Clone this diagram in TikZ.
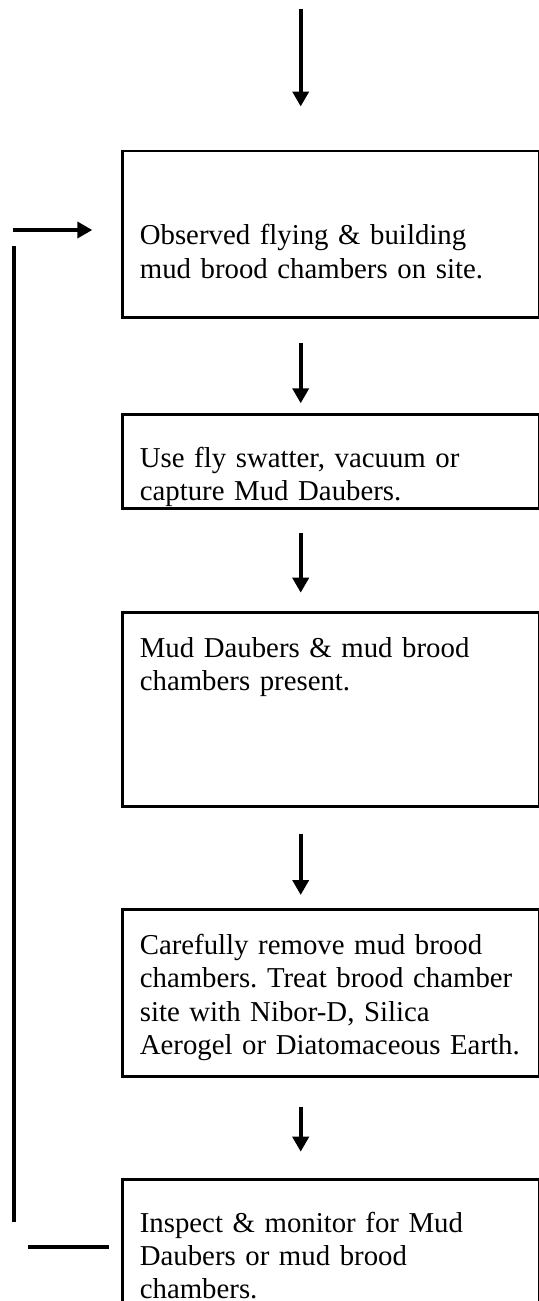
\documentclass[tikz,border=0pt]{standalone}
\usepackage{fontspec}
\setmainfont{Liberation Serif}
\usetikzlibrary{arrows.meta,calc}
\begin{document}
\frenchspacing
\begin{tikzpicture}[x=0.5pt,y=-0.5pt,
 box/.style={draw, line width=1.35pt, anchor=north west, inner xsep=8.75pt, inner ysep=0pt,
   text width=191pt, align=left, font=\fontsize{14.4pt}{16.65pt}\selectfont\frenchspacing},
 arr/.style={line width=1.85pt, -{Triangle[length=7.5pt,width=8pt]}},
 fb/.style={line width=1.85pt}]
\useasboundingbox (0,0) rectangle (539,1301);
\clip (0,0) rectangle (539,1301);
% boxes
\node[box, text height=47pt, text depth=36.25pt] (b1) at (121,149.5)
  {\mbox{Observed flying \& building}\\\mbox{mud brood chambers on site.}};
\node[box, text height=26.35pt, text depth=20.65pt] (b2) at (121,413.3)
  {\mbox{Use fly swatter, vacuum or}\\\mbox{capture Mud Daubers.}};
\node[box, text height=22.5pt, text depth=74.5pt] (b3) at (121,611)
  {\mbox{Mud Daubers \& mud brood}\\\mbox{chambers present.}};
\node[box, text height=22.5pt, text depth=60.85pt] (b4) at (121,908.3)
  {\mbox{Carefully remove mud brood}\\\mbox{chambers. Treat brood chamber}\\\mbox{site with Nibor-D, Silica}\\\mbox{Aerogel or Diatomaceous Earth.}};
\node[box, text height=26.5pt, text depth=49.5pt] (b5) at (121,1178)
  {\mbox{Inspect \& monitor for Mud}\\\mbox{Daubers or mud brood}\\\mbox{chambers.}};
% vertical arrows
\coordinate (ax) at (300.7,0);
\coordinate (start) at (300.7,8.6);
\draw[arr, shorten >=21.5pt] (start) -- (start |- b1.north);
\draw[arr, shorten <=12pt, shorten >=5pt] (ax |- b1.south) -- (ax |- b2.north);
\draw[arr, shorten <=11.35pt, shorten >=9.15pt] (ax |- b2.south) -- (ax |- b3.north);
\draw[arr, shorten <=13.35pt, shorten >=6.65pt] (ax |- b3.south) -- (ax |- b4.north);
\draw[arr, shorten <=14.5pt, shorten >=13.15pt] (ax |- b4.south) -- (ax |- b5.north);
% feedback loop
\coordinate (fbtop) at (13.7,246);
\coordinate (fbbot) at (13.7,1222);
\draw[fb] (fbtop) -- (fbbot);
\coordinate (fin) at (12.7,230);
\draw[arr, line width=2pt, shorten >=14.35pt] (fin) -- (fin -| b1.west);
\coordinate (fout) at (28.3,1246.7);
\draw[fb, line width=2pt, shorten <=6pt] (fout -| b5.west) -- (fout);
\end{tikzpicture}
\end{document}
